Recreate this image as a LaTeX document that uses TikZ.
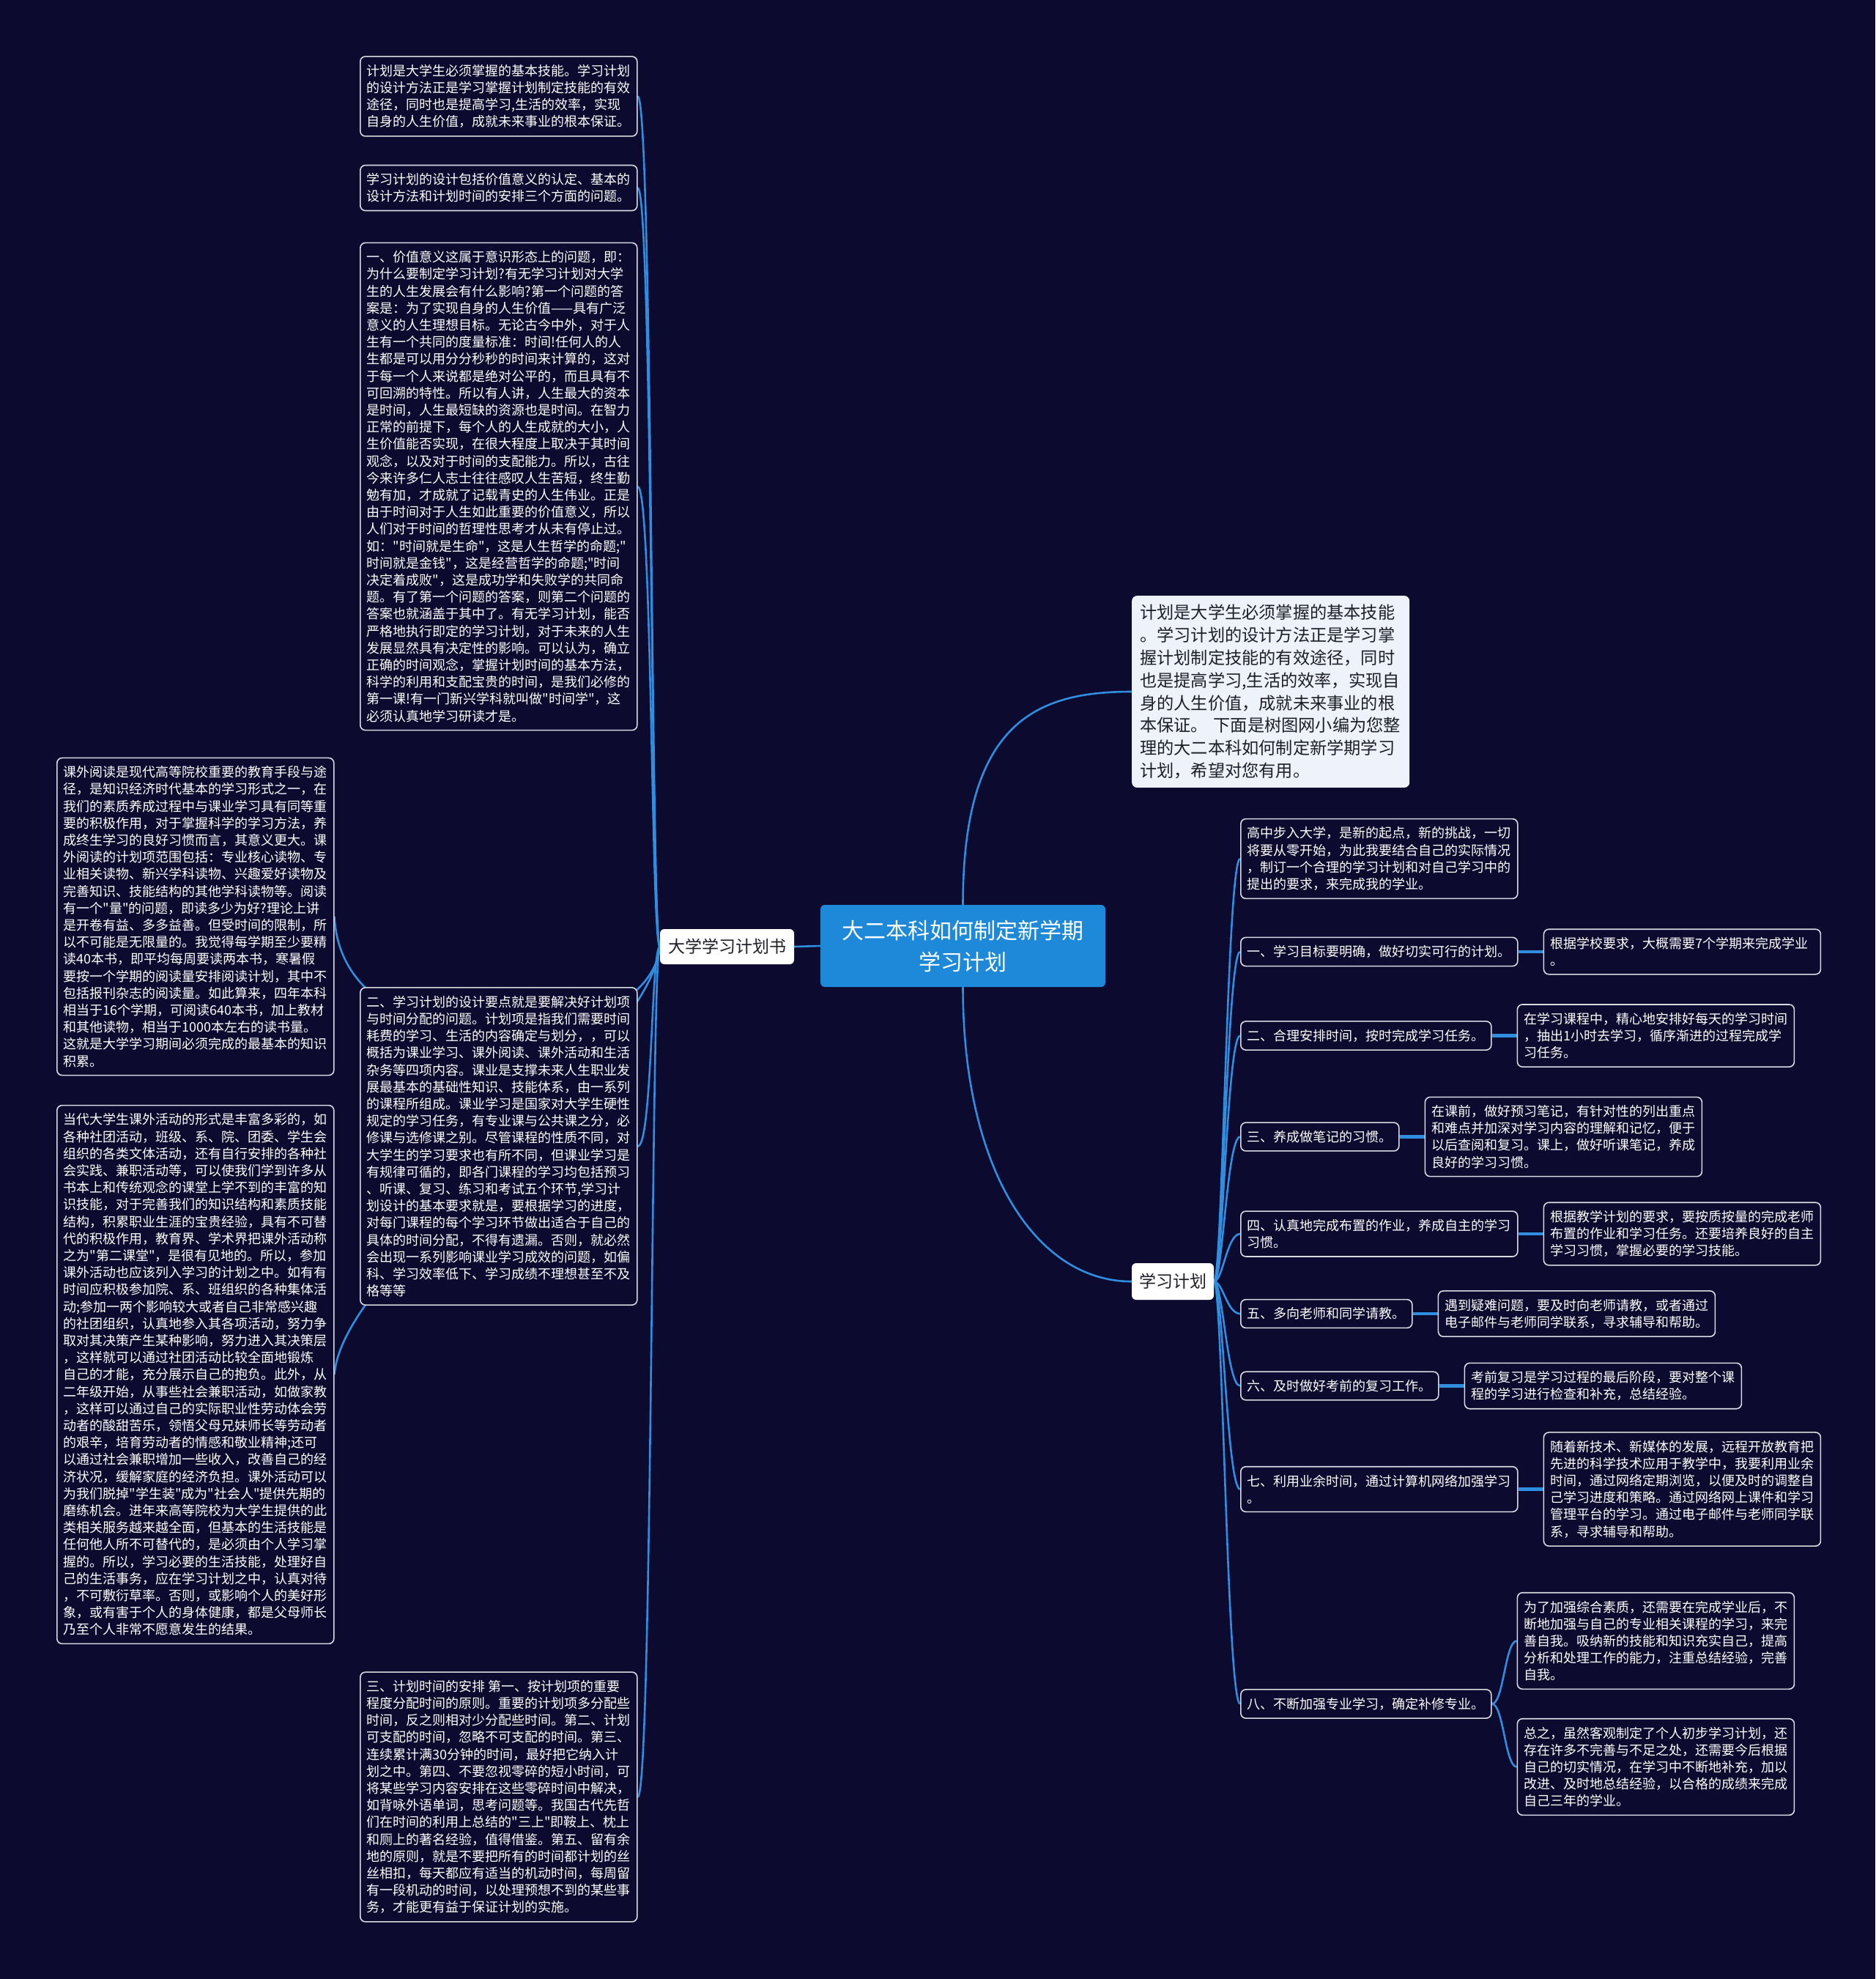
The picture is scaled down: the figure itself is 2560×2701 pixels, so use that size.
\documentclass[tikz,border=0pt]{standalone}
\usepackage{fontspec}
\setmainfont{Noto Sans CJK SC}[Ligatures=TeXOff]
\usetikzlibrary{positioning}
\definecolor{bgnavy}{HTML}{0C0A2E}
\definecolor{linkblue}{HTML}{2F8EDF}
\definecolor{hubblue}{HTML}{1D89D8}
\definecolor{introfill}{HTML}{EEF2FA}
\definecolor{inktext}{HTML}{1E1E28}
\definecolor{boxline}{HTML}{D9DAE2}
\pgfdeclarelayer{paper}\pgfdeclarelayer{links}
\pgfsetlayers{paper,links,main}
\tikzset{
 note/.style={draw=boxline,line width=1.6pt,fill=bgnavy,rounded corners=7pt,text=white,align=left,inner xsep=9pt,inner ysep=11pt,font=\fontsize{18}{23.2}\selectfont},
 topic/.style={fill=white,text=inktext,rounded corners=6pt,minimum height=48pt,inner xsep=11pt,font=\fontsize{23}{28}\selectfont},
 link/.style={draw=linkblue,line width=2.6pt},
 stub/.style={draw=linkblue,line width=4.5pt}
}
\begin{document}
\begin{tikzpicture}[x=1pt,y=-1pt]
\begin{pgfonlayer}{paper}
\fill[bgnavy] (0,0) rectangle (2560,2701);
\end{pgfonlayer}
\useasboundingbox (0,0) rectangle (2560,2701);
% centre and main branches
\node[fill=hubblue,text=white,rounded corners=6pt,align=center,minimum width=389pt,minimum height=112pt,inner sep=0pt,font=\fontsize{30}{43}\selectfont] (hub) at (1314.5,1291) {大二本科如何制定新学期\\学习计划};
\node[topic] (plan) at (992.5,1292) {大学学习计划书};
\node[topic,minimum height=50pt,inner xsep=10pt] (study) at (1601,1749) {学习计划};
\node[fill=introfill,text=inktext,rounded corners=7pt,align=left,text width=357pt,inner xsep=11pt,inner ysep=12pt,font=\fontsize{23.2}{30.8}\selectfont,anchor=west] (intro) at (1545,944) {计划是大学生必须掌握的基本技能\\。学习计划的设计方法正是学习掌\\握计划制定技能的有效途径，同时\\也是提高学习,生活的效率，实现自\\身的人生价值，成就未来事业的根\\本保证。 下面是树图网小编为您整\\理的大二本科如何制定新学期学习\\计划，希望对您有用。};
% left side
\node[note,anchor=west] (p1) at (491,131.5) {计划是大学生必须掌握的基本技能。学习计划\\的设计方法正是学习掌握计划制定技能的有效\\途径，同时也是提高学习,生活的效率，实现\\自身的人生价值，成就未来事业的根本保证。};
\node[note,anchor=west] (p2) at (491,256.5) {学习计划的设计包括价值意义的认定、基本的\\设计方法和计划时间的安排三个方面的问题。};
\node[note,anchor=west] (p3) at (491,664) {一、价值意义这属于意识形态上的问题，即：\\为什么要制定学习计划?有无学习计划对大学\\生的人生发展会有什么影响?第一个问题的答\\案是：为了实现自身的人生价值——具有广泛\\意义的人生理想目标。无论古今中外，对于人\\生有一个共同的度量标准：时间!任何人的人\\生都是可以用分分秒秒的时间来计算的，这对\\于每一个人来说都是绝对公平的，而且具有不\\可回溯的特性。所以有人讲，人生最大的资本\\是时间，人生最短缺的资源也是时间。在智力\\正常的前提下，每个人的人生成就的大小，人\\生价值能否实现，在很大程度上取决于其时间\\观念，以及对于时间的支配能力。所以，古往\\今来许多仁人志士往往感叹人生苦短，终生勤\\勉有加，才成就了记载青史的人生伟业。正是\\由于时间对于人生如此重要的价值意义，所以\\人们对于时间的哲理性思考才从未有停止过。\\如："时间就是生命"，这是人生哲学的命题;"\\时间就是金钱"，这是经营哲学的命题;"时间\\决定着成败"，这是成功学和失败学的共同命\\题。有了第一个问题的答案，则第二个问题的\\答案也就涵盖于其中了。有无学习计划，能否\\严格地执行即定的学习计划，对于未来的人生\\发展显然具有决定性的影响。可以认为，确立\\正确的时间观念，掌握计划时间的基本方法，\\科学的利用和支配宝贵的时间，是我们必修的\\第一课!有一门新兴学科就叫做"时间学"，这\\必须认真地学习研读才是。};
\node[note,anchor=west] (p4) at (77,1251) {课外阅读是现代高等院校重要的教育手段与途\\径，是知识经济时代基本的学习形式之一，在\\我们的素质养成过程中与课业学习具有同等重\\要的积极作用，对于掌握科学的学习方法，养\\成终生学习的良好习惯而言，其意义更大。课\\外阅读的计划项范围包括：专业核心读物、专\\业相关读物、新兴学科读物、兴趣爱好读物及\\完善知识、技能结构的其他学科读物等。阅读\\有一个"量"的问题，即读多少为好?理论上讲\\是开卷有益、多多益善。但受时间的限制，所\\以不可能是无限量的。我觉得每学期至少要精\\读40本书，即平均每周要读两本书，寒暑假\\要按一个学期的阅读量安排阅读计划，其中不\\包括报刊杂志的阅读量。如此算来，四年本科\\相当于16个学期，可阅读640本书，加上教材\\和其他读物，相当于1000本左右的读书量。\\这就是大学学习期间必须完成的最基本的知识\\积累。};
\node[note,anchor=west] (p5) at (491,1564.5) {二、学习计划的设计要点就是要解决好计划项\\与时间分配的问题。计划项是指我们需要时间\\耗费的学习、生活的内容确定与划分，，可以\\概括为课业学习、课外阅读、课外活动和生活\\杂务等四项内容。课业是支撑未来人生职业发\\展最基本的基础性知识、技能体系，由一系列\\的课程所组成。课业学习是国家对大学生硬性\\规定的学习任务，有专业课与公共课之分，必\\修课与选修课之别。尽管课程的性质不同，对\\大学生的学习要求也有所不同，但课业学习是\\有规律可循的，即各门课程的学习均包括预习\\、听课、复习、练习和考试五个环节,学习计\\划设计的基本要求就是，要根据学习的进度，\\对每门课程的每个学习环节做出适合于自己的\\具体的时间分配，不得有遗漏。否则，就必然\\会出现一系列影响课业学习成效的问题，如偏\\科、学习效率低下、学习成绩不理想甚至不及\\格等等};
\node[note,anchor=west] (p6) at (77,1876) {当代大学生课外活动的形式是丰富多彩的，如\\各种社团活动，班级、系、院、团委、学生会\\组织的各类文体活动，还有自行安排的各种社\\会实践、兼职活动等，可以使我们学到许多从\\书本上和传统观念的课堂上学不到的丰富的知\\识技能，对于完善我们的知识结构和素质技能\\结构，积累职业生涯的宝贵经验，具有不可替\\代的积极作用，教育界、学术界把课外活动称\\之为"第二课堂"，是很有见地的。所以，参加\\课外活动也应该列入学习的计划之中。如有有\\时间应积极参加院、系、班组织的各种集体活\\动;参加一两个影响较大或者自己非常感兴趣\\的社团组织，认真地参入其各项活动，努力争\\取对其决策产生某种影响，努力进入其决策层\\，这样就可以通过社团活动比较全面地锻炼\\自己的才能，充分展示自己的抱负。此外，从\\二年级开始，从事些社会兼职活动，如做家教\\，这样可以通过自己的实际职业性劳动体会劳\\动者的酸甜苦乐，领悟父母兄妹师长等劳动者\\的艰辛，培育劳动者的情感和敬业精神;还可\\以通过社会兼职增加一些收入，改善自己的经\\济状况，缓解家庭的经济负担。课外活动可以\\为我们脱掉"学生装"成为"社会人"提供先期的\\磨练机会。进年来高等院校为大学生提供的此\\类相关服务越来越全面，但基本的生活技能是\\任何他人所不可替代的，是必须由个人学习掌\\握的。所以，学习必要的生活技能，处理好自\\己的生活事务，应在学习计划之中，认真对待\\，不可敷衍草率。否则，或影响个人的美好形\\象，或有害于个人的身体健康，都是父母师长\\乃至个人非常不愿意发生的结果。};
\node[note,anchor=west] (p7) at (491,2452.5) {三、计划时间的安排 第一、按计划项的重要\\程度分配时间的原则。重要的计划项多分配些\\时间，反之则相对少分配些时间。第二、计划\\可支配的时间，忽略不可支配的时间。第三、\\连续累计满30分钟的时间，最好把它纳入计\\划之中。第四、不要忽视零碎的短小时间，可\\将某些学习内容安排在这些零碎时间中解决，\\如背咏外语单词，思考问题等。我国古代先哲\\们在时间的利用上总结的"三上"即鞍上、枕上\\和厕上的著名经验，值得借鉴。第五、留有余\\地的原则，就是不要把所有的时间都计划的丝\\丝相扣，每天都应有适当的机动时间，每周留\\有一段机动的时间，以处理预想不到的某些事\\务，才能更有益于保证计划的实施。};
% right side
\node[note,anchor=west] (item0) at (1693,1172) {高中步入大学，是新的起点，新的挑战，一切\\将要从零开始，为此我要结合自己的实际情况\\，制订一个合理的学习计划和对自己学习中的\\提出的要求，来完成我的学业。};
\node[note,anchor=west] (item1) at (1693,1299) {一、学习目标要明确，做好切实可行的计划。};
\node[note,anchor=west] (item2) at (1693,1413.5) {二、合理安排时间，按时完成学习任务。};
\node[note,anchor=west] (item3) at (1693,1551.5) {三、养成做笔记的习惯。};
\node[note,anchor=west] (item4) at (1693,1684) {四、认真地完成布置的作业，养成自主的学习\\习惯。};
\node[note,anchor=west] (item5) at (1693,1793) {五、多向老师和同学请教。};
\node[note,anchor=west] (item6) at (1693,1891.5) {六、及时做好考前的复习工作。};
\node[note,anchor=west] (item7) at (1693,2032.5) {七、利用业余时间，通过计算机网络加强学习\\。};
\node[note,anchor=west] (item8) at (1693,2325.5) {八、不断加强专业学习，确定补修专业。};
\node[note,right=34pt of item1,text width=360pt] (note1) {根据学校要求，大概需要7个学期来完成学业\\。};
\node[note,right=34pt of item2] (note2) {在学习课程中，精心地安排好每天的学习时间\\，抽出1小时去学习，循序渐进的过程完成学\\习任务。};
\node[note,right=34pt of item3] (note3) {在课前，做好预习笔记，有针对性的列出重点\\和难点并加深对学习内容的理解和记忆，便于\\以后查阅和复习。课上，做好听课笔记，养成\\良好的学习习惯。};
\node[note,right=34pt of item4] (note4) {根据教学计划的要求，要按质按量的完成老师\\布置的作业和学习任务。还要培养良好的自主\\学习习惯，掌握必要的学习技能。};
\node[note,right=34pt of item5] (note5) {遇到疑难问题，要及时向老师请教，或者通过\\电子邮件与老师同学联系，寻求辅导和帮助。};
\node[note,right=34pt of item6] (note6) {考前复习是学习过程的最后阶段，要对整个课\\程的学习进行检查和补充，总结经验。};
\node[note,right=34pt of item7] (note7) {随着新技术、新媒体的发展，远程开放教育把\\先进的科学技术应用于教学中，我要利用业余\\时间，通过网络定期浏览，以便及时的调整自\\己学习进度和策略。通过网络网上课件和学习\\管理平台的学习。通过电子邮件与老师同学联\\系，寻求辅导和帮助。};
\node[note,right=34pt of item8,yshift=86pt] (note8a) {为了加强综合素质，还需要在完成学业后，不\\断地加强与自己的专业相关课程的学习，来完\\善自我。吸纳新的技能和知识充实自己，提高\\分析和处理工作的能力，注重总结经验，完善\\自我。};
\node[note,right=34pt of item8,yshift=-86pt] (note8b) {总之，虽然客观制定了个人初步学习计划，还\\存在许多不完善与不足之处，还需要今后根据\\自己的切实情况，在学习中不断地补充，加以\\改进、及时地总结经验，以合格的成绩来完成\\自己三年的学业。};
% connectors
\begin{pgfonlayer}{links}
\draw[link] (hub.west) -- (plan.east);
\draw[link] (hub.north) .. controls +(0,-250) and +(-130,0) .. (intro.west);
\draw[link] (hub.south) .. controls +(0,250) and +(-130,0) .. (study.west);
\foreach \n in {p1,p2,p3,p5,p7}
 \draw[link] (plan.west) .. controls +(-12,0) and +(20,0) .. (\n.east);
\draw[link] (plan.west) .. controls +(-15,150) and +(10,220) .. (p4.east);
\draw[link] (plan.west) .. controls +(-15,150) and +(10,-150) .. (p6.east);
\foreach \n in {0,...,8}
 \draw[link] (study.east) .. controls +(12,0) and +(-18,0) .. (item\n.west);
\foreach \n in {1,...,7}
 \draw[stub] (item\n.east) -- (note\n.west);
\draw[link] (item8.east) .. controls +(16,0) and +(-16,0) .. (note8a.west);
\draw[link] (item8.east) .. controls +(16,0) and +(-16,0) .. (note8b.west);
\end{pgfonlayer}
\end{tikzpicture}
\end{document}
